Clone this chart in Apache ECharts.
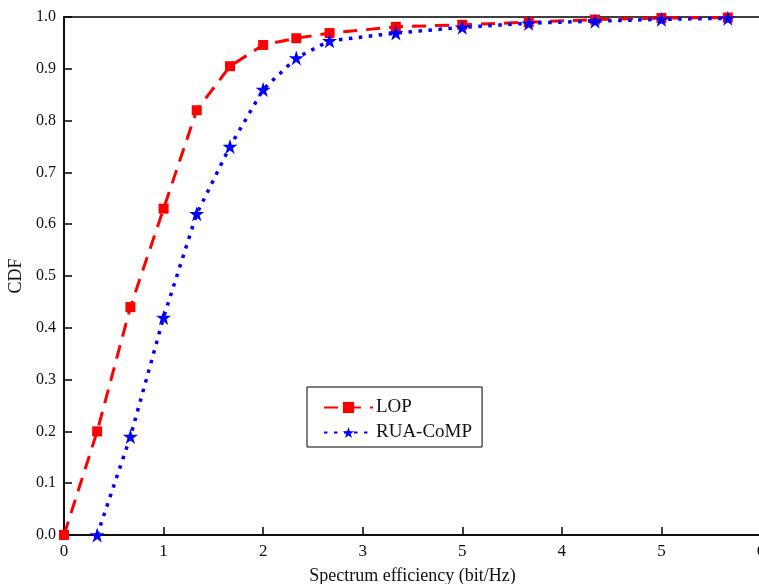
<!DOCTYPE html>
<html><head><meta charset="utf-8">
<script src="https://cdn.jsdelivr.net/npm/echarts@6/dist/echarts.min.js"></script>
<style>html,body{margin:0;padding:0;background:#fff}#c{width:759px;height:584px}</style>
</head><body><div id="c"></div>
<script>
const xTickLabels = ['0','1','2','3','5','4','5','6'];
const yTickLabels = ['0.0','0.1','0.2','0.3','0.4','0.5','0.6','0.7','0.8','0.9','1.0'];
const lopX = [0, 0.333, 0.667, 1.0, 1.333, 1.667, 2.0, 2.333, 2.667, 3.333, 4.0, 4.667, 5.333, 6.0, 6.667];
const lopY = [0, 0.20, 0.44, 0.63, 0.82, 0.905, 0.946, 0.959, 0.969, 0.981, 0.985, 0.99, 0.995, 0.998, 0.999];
const ruaX = [0.333, 0.667, 1.0, 1.333, 1.667, 2.0, 2.333, 2.667, 3.333, 4.0, 4.667, 5.333, 6.0, 6.667];
const ruaY = [0, 0.19, 0.42, 0.62, 0.75, 0.86, 0.921, 0.954, 0.969, 0.98, 0.988, 0.992, 0.9955, 0.9975];
const seriesNames = ['LOP', 'RUA-CoMP'];

const star = 'path://M50,0 L61.8,35.5 L99,35.5 L69,57.5 L80.5,93 L50,71 L19.5,93 L31,57.5 L1,35.5 L38.2,35.5 Z';
const font = '"Liberation Serif", "Times New Roman", serif';
const chart = echarts.init(document.getElementById('c'), null, {renderer: 'canvas'});
chart.setOption({
  animation: false,
  backgroundColor: '#fff',
  textStyle: {fontFamily: font},
  grid: {left: 64, width: 697, top: 17, height: 518, show: true, borderColor: '#000', borderWidth: 1.5,
    containLabel: false, outerBoundsMode: 'none'},
  legend: {
    orient: 'vertical', left: 307, top: 387,
    backgroundColor: '#fff', borderColor: '#000', borderWidth: 1,
    padding: [11, 10, 5, 16], itemGap: 6, itemWidth: 49, itemHeight: 14,
    textStyle: {fontFamily: font, fontSize: 19, color: '#111', padding: [0, 0, 0, -2]},
    data: seriesNames
  },
  xAxis: {
    type: 'value', min: 0, max: 7, interval: 1,
    name: 'Spectrum efficiency (bit/Hz)', nameLocation: 'middle', nameGap: 32,
    nameTextStyle: {fontFamily: font, fontSize: 18, color: '#111'},
    axisLine: {lineStyle: {color: '#000', width: 1.5}},
    axisTick: {inside: true, length: 8, lineStyle: {color: '#000', width: 1.5}},
    axisLabel: {fontFamily: font, fontSize: 17, color: '#111', margin: 8, showMaxLabel: true,
      formatter: v => xTickLabels[Math.round(v)] ?? ''},
    splitLine: {show: false}
  },
  yAxis: {
    type: 'value', min: 0, max: 1, interval: 0.1,
    name: 'CDF', nameLocation: 'middle', nameGap: 39, nameRotate: 90,
    nameTextStyle: {fontFamily: font, fontSize: 18, color: '#111'},
    axisLine: {lineStyle: {color: '#000', width: 1.5}},
    axisTick: {inside: true, length: 8, lineStyle: {color: '#000', width: 1.5}},
    axisLabel: {fontFamily: font, fontSize: 16, color: '#111', margin: 8,
      formatter: v => yTickLabels[Math.round(v * 10)] ?? ''},
    splitLine: {show: false}
  },
  series: [
    {
      name: seriesNames[0], type: 'line', data: lopX.map((x, i) => [x, lopY[i]]),
      symbol: 'rect', symbolSize: 10, showAllSymbol: true,
      itemStyle: {color: '#ff0000'},
      lineStyle: {color: '#ff0000', width: 3, type: [14, 9]},
      z: 3
    },
    {
      name: seriesNames[1], type: 'line', data: ruaX.map((x, i) => [x, ruaY[i]]),
      symbol: star, symbolSize: 15, showAllSymbol: true,
      itemStyle: {color: '#0000ff'},
      lineStyle: {color: '#0000ff', width: 3.5, type: [3.5, 6.5], cap: 'butt'},
      z: 4
    }
  ]
});
</script></body></html>
